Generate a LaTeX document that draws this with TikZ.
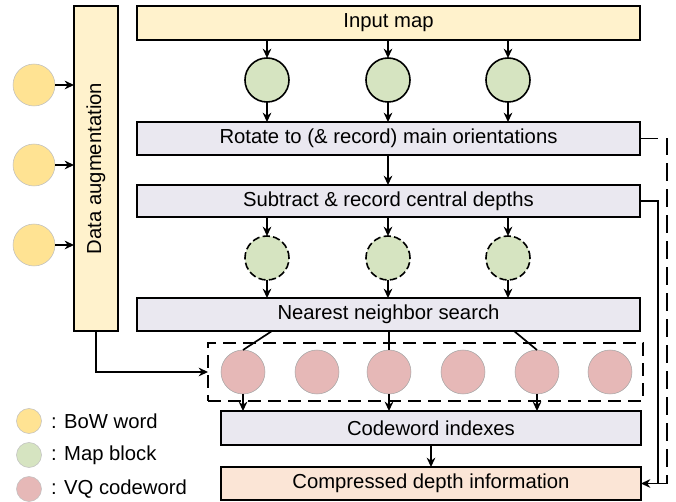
\documentclass[tikz,border=0pt]{standalone}
\usepackage{fontspec}
\setmainfont{Liberation Sans}
\usetikzlibrary{arrows.meta,positioning,calc}
\definecolor{cyel}{HTML}{FFF2CC}
\definecolor{cgray}{HTML}{EAE8F0}
\definecolor{cpeach}{HTML}{FBE5D6}
\definecolor{cgreen}{HTML}{D6E4C1}
\definecolor{cpink}{HTML}{E6B8B7}
\definecolor{cbow}{HTML}{FFE393}
\begin{document}
\begin{tikzpicture}[x=0.75pt,y=-0.75pt,
  font=\fontsize{15.2}{18}\selectfont,
  every node/.style={inner sep=0pt,outer sep=0pt},
  box/.style={draw,line width=1.25pt,rectangle},
  gcirc/.style={circle,draw,line width=1.2pt,fill=cgreen,minimum size=44*0.75pt},
  gdash/.style={gcirc,dash pattern=on 5.5pt off 2.4pt},
  pcirc/.style={circle,draw=gray!70,line width=0.4pt,fill=cpink,minimum size=44*0.75pt},
  bcirc/.style={circle,draw=gray!50,line width=0.4pt,fill=cbow,minimum size=42*0.75pt},
  lcirc/.style={circle,draw=gray!50,line width=0.4pt,minimum size=25*0.75pt},
  arr/.style={line width=1.25pt,-{Stealth[length=7pt,width=6.5pt]}},
  ln/.style={line width=1.25pt},
  longdash/.style={line width=1.25pt,dash pattern=on 13.5pt off 6pt},
]
\useasboundingbox (0,0) rectangle (676,502);

% boxes
\node[box,fill=cyel,minimum width=44*0.75pt,minimum height=325*0.75pt] (aug) at (96,168.5) {};
\node[rotate=90] (augt) at (96,168.5) {Data augmentation};
\node[box,fill=cyel,minimum width=503*0.75pt,minimum height=34*0.75pt] (input) at (388.5,23) {Input map};
\node[box,fill=cgray,minimum width=503*0.75pt,minimum height=33*0.75pt] (rot) at (388.5,138.5) {Rotate to (\& record) main orientations};
\node[box,fill=cgray,minimum width=503*0.75pt,minimum height=32*0.75pt] (sub) at (388.5,201) {Subtract \& record central depths};
\node[box,fill=cgray,minimum width=503*0.75pt,minimum height=33*0.75pt] (nn) at (388.5,314.5) {Nearest neighbor search};
\node[box,fill=cgray,minimum width=420*0.75pt,minimum height=34*0.75pt] (cw) at (431,428) {Codeword indexes};
\node[box,fill=cpeach,minimum width=420*0.75pt,minimum height=33*0.75pt] (comp) at (431,483.5) {Compressed depth information};
\node[draw,line width=0.8pt,dash pattern=on 10pt off 5pt,minimum width=435*0.75pt,minimum height=58*0.75pt] (dr) at (425.5,372) {};

% green circles
\node[gcirc] (g1) at (267,80) {};
\node[gcirc] (g2) at (388,80) {};
\node[gcirc] (g3) at (508,80) {};
\node[gdash] (d1) at (267,258) {};
\node[gdash] (d2) at (388,258) {};
\node[gdash] (d3) at (508,258) {};

% pink circles
\node[pcirc] (p1) at (243,372) {};
\node[pcirc] (p2) at (317,372) {};
\node[pcirc] (p3) at (389,372) {};
\node[pcirc] (p4) at (463,372) {};
\node[pcirc] (p5) at (537,372) {};
\node[pcirc] (p6) at (610,372) {};

% BoW circles
\node[bcirc] (b1) at (34,85) {};
\node[bcirc] (b2) at (34,165) {};
\node[bcirc] (b3) at (34,245) {};

% legend
\node[lcirc,fill=cbow] (l1) at (29,421) {};
\node[lcirc,fill=cgreen] (l2) at (29,455) {};
\node[lcirc,fill=cpink] (l3) at (29,489) {};
\node[anchor=west] (t1) at (51,421) {: BoW word};
\node[anchor=west] (t2) at (51,455) {: Map block};
\node[anchor=west] (t3) at (51,489) {: VQ codeword};

% arrows
\foreach \g in {g1,g2,g3}{
  \draw[arr] (\g |- input.south) -- (\g.north);
  \draw[arr] (\g.south) -- (\g |- rot.north);
}
\draw[arr] (g2 |- rot.south) -- (g2 |- sub.north);
\foreach \d in {d1,d2,d3}{
  \draw[arr] (\d |- sub.south) -- (\d.north);
  \draw[arr] (\d.south) -- (\d |- nn.north);
}
\draw[ln] ([xshift=101.25pt]nn.south west) -- (p1.north);
\draw[ln] (p3 |- nn.south) -- (p3.north);
\draw[ln] ([xshift=282.75pt]nn.south west) -- (p5.north);
\foreach \p in {p1,p3,p5}{
  \draw[arr] (\p.south) -- (\p |- cw.north);
}
\draw[arr] (cw.south) -- (comp.north);
\foreach \b in {b1,b2,b3}{
  \draw[arr] (\b.east) -- (\b -| aug.west);
}
\draw[arr] (aug.south) -- (aug.south |- dr.west) -- (dr.west);

% right side connectors
\draw[longdash] (rot.east) -- ++(27,0) |- (comp.east);
\draw[arr] (sub.east) -- ++(18,0) |- (comp.east);
\end{tikzpicture}
\end{document}
